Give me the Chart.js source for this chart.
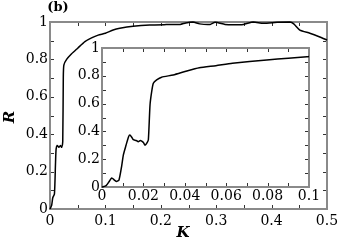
<!DOCTYPE html>
<html>
<head>
<meta charset="utf-8">
<script src="https://cdn.jsdelivr.net/npm/chart.js"></script>
<style>
    html, body { margin: 0; padding: 0; background: #fff; }
    #wrap { position: relative; width: 339px; height: 245px; overflow: hidden; }
    #wrap canvas { position: absolute; }
    #mainChart { left: 0; top: 0; }
    #insetChart { left: 60px; top: 36px; }
</style>
</head>
<body>
<div id="wrap">
    <canvas id="mainChart" width="339" height="245"></canvas>
    <canvas id="insetChart" width="265" height="175"></canvas>
</div>
<script>
//dados do painel principal (K de 0 a 0.5)
const mainK = [0, 0.003, 0.005, 0.008, 0.010, 0.011, 0.013, 0.016, 0.019, 0.021, 0.023, 0.024, 0.025, 0.03,
    0.039, 0.05, 0.063, 0.075, 0.087, 0.1, 0.114, 0.126, 0.15, 0.18, 0.21, 0.235, 0.245, 0.258, 0.27, 0.289,
    0.298, 0.316, 0.33, 0.349, 0.367, 0.385, 0.41, 0.433, 0.44, 0.451, 0.469, 0.487, 0.5];
const mainR = [0, 0.02, 0.06, 0.08, 0.25, 0.32, 0.34, 0.33, 0.34, 0.33, 0.36, 0.7, 0.77, 0.8,
    0.83, 0.86, 0.895, 0.915, 0.93, 0.94, 0.957, 0.966, 0.977, 0.984, 0.986, 0.987, 0.995, 1.0, 0.99, 0.987,
    0.998, 0.987, 0.985, 0.987, 1.0, 0.993, 0.998, 1.0, 0.99, 0.957, 0.94, 0.92, 0.904];

//dados do inset (K de 0 a 0.1)
const insetK = [0, 0.002, 0.0035, 0.0047, 0.006, 0.007, 0.0082, 0.0095, 0.0103, 0.0116, 0.0128, 0.0135,
    0.0145, 0.0151, 0.0165, 0.0175, 0.0185, 0.0192, 0.0200, 0.0208, 0.0218, 0.0224, 0.0232, 0.024, 0.0248,
    0.0264, 0.0288, 0.0344, 0.041, 0.047, 0.055, 0.063, 0.0796, 0.09, 0.099, 0.1];
const insetR = [0, 0.01, 0.04, 0.065, 0.05, 0.04, 0.05, 0.15, 0.23, 0.30, 0.36, 0.374,
    0.355, 0.34, 0.335, 0.326, 0.335, 0.33, 0.32, 0.30, 0.32, 0.34, 0.59, 0.686, 0.746,
    0.77, 0.79, 0.806, 0.835, 0.858, 0.873, 0.89, 0.914, 0.927, 0.937, 0.938];

//rotulos dos eixos
const mainXTicks = [0, 0.1, 0.2, 0.3, 0.4, 0.5];
const mainYTicks = [0, 0.2, 0.4, 0.6, 0.8, 1];
const insetXTicks = [0, 0.02, 0.04, 0.06, 0.08, 0.1];
const insetYTicks = [0, 0.2, 0.4, 0.6, 0.8, 1];

const fig = {

    serif: "'DejaVu Serif', 'Liberation Serif', serif",

    init() {
        Chart.defaults.font.family = this.serif;
        Chart.defaults.color = '#000';
        this.create_main();
        this.create_inset();
    },

    //moldura cinza + tracinhos para dentro
    frame_plugin: {
        id: 'frame',
        beforeDatasetsDraw(chart, args, opts) {
            const { ctx, chartArea: a, scales } = chart;
            const sx = scales.x, sy = scales.y;
            ctx.save();
            ctx.strokeStyle = '#333';
            ctx.lineWidth = 1;
            ctx.beginPath();
            for (let i = 0; sx.min + i * opts.xStep <= sx.max + 1e-9; i++) {
                const px = Math.round(sx.getPixelForValue(sx.min + i * opts.xStep)) + 0.5;
                ctx.moveTo(px, a.bottom); ctx.lineTo(px, a.bottom - opts.len);
                ctx.moveTo(px, a.top); ctx.lineTo(px, a.top + opts.len);
            }
            for (let i = 0; sy.min + i * opts.yStep <= sy.max + 1e-9; i++) {
                const py = Math.round(sy.getPixelForValue(sy.min + i * opts.yStep)) + 0.5;
                ctx.moveTo(a.left, py); ctx.lineTo(a.left + opts.len, py);
                ctx.moveTo(a.right, py); ctx.lineTo(a.right - opts.len, py);
            }
            ctx.stroke();
            ctx.strokeStyle = '#8a8a8a';
            ctx.lineWidth = 2;
            ctx.strokeRect(a.left, a.top, a.right - a.left, a.bottom - a.top);
            ctx.restore();
        }
    },

    //textos soltos: (b), R e K
    labels_plugin: {
        id: 'labels',
        afterDraw(chart) {
            const ctx = chart.ctx;
            ctx.save();
            ctx.fillStyle = '#000';
            ctx.textAlign = 'center';
            ctx.textBaseline = 'middle';
            ctx.font = "bold 13px 'DejaVu Serif', serif";
            ctx.fillText('(b)', 58, 8);
            ctx.font = "italic bold 15px 'DejaVu Serif', serif";
            ctx.fillText('K', 183, 233);
            ctx.translate(10, 117);
            ctx.rotate(-Math.PI / 2);
            ctx.fillText('R', 0, 0);
            ctx.restore();
        }
    },

    points: function (xs, ys) {
        return xs.map(function (k, i) { return { x: k, y: ys[i] }; });
    },

    axis: function (min, max, ticks, size, horizontal, pad) {
        return {
            type: 'linear',
            min: min,
            max: max,
            grid: { display: false, drawTicks: false },
            border: { display: false },
            afterBuildTicks: function (scale) {
                scale.ticks = ticks.map(function (v) { return { value: v }; });
            },
            afterFit: function (scale) {
                //tamanho fixo, sem folga extra pros rotulos das pontas
                if (horizontal) scale.height = size; else scale.width = size;
                scale.paddingLeft = 0;
                scale.paddingRight = 0;
                scale.paddingTop = 0;
                scale.paddingBottom = 0;
            },
            ticks: {
                padding: pad,
                autoSkip: false,
                maxRotation: 0,
                font: { size: 14 },
                callback: function (v) { return String(v); }
            }
        };
    },

    create_chart: function (id, data, scales, padding, frame, extra) {
        return new Chart(document.getElementById(id), {
            type: 'line',
            data: {
                datasets: [{
                    data: data,
                    borderColor: '#000',
                    borderWidth: 1.5,
                    pointRadius: 0,
                    tension: 0.2,
                    fill: false,
                    clip: 3
                }]
            },
            options: {
                responsive: false,
                animation: false,
                events: [],
                layout: { padding: padding },
                plugins: {
                    legend: { display: false },
                    tooltip: { enabled: false },
                    frame: frame
                },
                scales: scales
            },
            plugins: [this.frame_plugin].concat(extra)
        });
    },

    create_main: function () {
        this.create_chart('mainChart', this.points(mainK, mainR), {
            x: this.axis(0, 0.5, mainXTicks, 36, true, 4),
            y: this.axis(0, 1, mainYTicks, 50, false, 2)
        }, { left: 0, top: 22, right: 12, bottom: 0 },
            { xStep: 0.05, yStep: 0.1, len: 4 }, [this.labels_plugin]);
    },

    create_inset: function () {
        this.create_chart('insetChart', this.points(insetK, insetR), {
            x: this.axis(0, 0.1, insetXTicks, 24, true, 1),
            y: this.axis(0, 1, insetYTicks, 42, false, 2)
        }, { left: 0, top: 12, right: 16, bottom: 0 },
            { xStep: 0.01, yStep: 0.1, len: 4 }, []);
    }
};

fig.init();
</script>
</body>
</html>
